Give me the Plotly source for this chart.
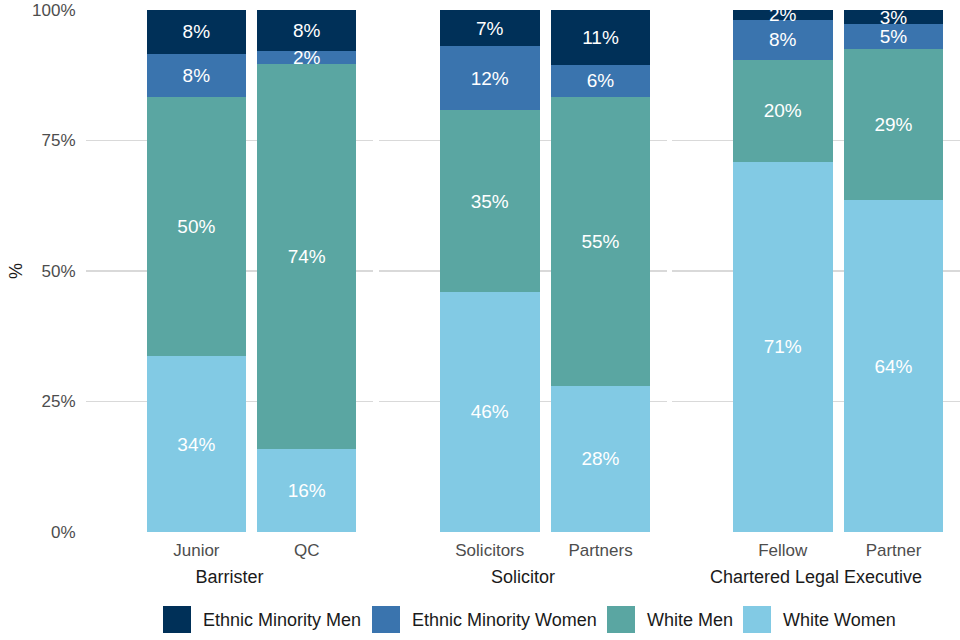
import plotly.graph_objects as go

facets = ["Barrister", "Solicitor", "Chartered Legal Executive"]
categories = [["Junior", "QC"], ["Solicitors", "Partners"], ["Fellow", "Partner"]]
series = ["Ethnic Minority Men", "Ethnic Minority Women", "White Men", "White Women"]
colors = {"Ethnic Minority Men": "#003058", "Ethnic Minority Women": "#3A74AE",
          "White Men": "#5AA6A2", "White Women": "#82CAE4"}
# values per facet: [cat1, cat2]
white_women = [[33.7, 15.9], [46.0, 28.0], [70.9, 63.6]]
white_men = [[49.6, 73.8], [34.8, 55.3], [19.6, 28.9]]
em_women = [[8.3, 2.4], [12.3, 6.2], [7.6, 4.8]]
em_men = [[8.4, 7.9], [6.9, 10.5], [1.9, 2.7]]
yticks = [0, 25, 50, 75, 100]
ytick_labels = ["0%", "25%", "50%", "75%", "100%"]

data = {"White Women": white_women, "White Men": white_men,
        "Ethnic Minority Women": em_women, "Ethnic Minority Men": em_men}
stack_order = ["White Women", "White Men", "Ethnic Minority Women", "Ethnic Minority Men"]

FONT = "Liberation Sans, Arial, sans-serif"
W, H = 960, 640
ML, MR, MT, MB = 86, 0, 10, 108
PW = W - ML - MR
PH = H - MT - MB
domains = [[0, 287 / PW], [293 / PW, 581 / PW], [586 / PW, 1.0]]

fig = go.Figure()
for i in range(3):
    xa = "x" if i == 0 else f"x{i+1}"
    ya = "y" if i == 0 else f"y{i+1}"
    for s in stack_order:
        fig.add_trace(go.Bar(
            x=categories[i], y=data[s][i], name=s, marker_color=colors[s],
            marker_line_width=0, width=0.9, xaxis=xa, yaxis=ya, showlegend=False,
            texttemplate="%{y:.0f}%", textposition="inside", insidetextanchor="middle",
            textangle=0, constraintext="none",
            textfont=dict(color="white", size=19, family=FONT),
            hoverinfo="skip"))

layout = dict(
    width=W, height=H, barmode="stack", plot_bgcolor="white", paper_bgcolor="white",
    margin=dict(l=ML, r=MR, t=MT, b=MB), font=dict(family=FONT),
)
for i in range(3):
    xk = "xaxis" if i == 0 else f"xaxis{i+1}"
    yk = "yaxis" if i == 0 else f"yaxis{i+1}"
    layout[xk] = dict(
        domain=domains[i], anchor="y" if i == 0 else f"y{i+1}",
        type="category", categoryorder="array", categoryarray=categories[i],
        range=[-1.0, 1.6], showgrid=False, zeroline=False, showline=False,
        ticks="outside", ticklen=3, tickcolor="rgba(0,0,0,0)",
        tickfont=dict(size=17, color="#4D4D4D", family=FONT),
        title=dict(text=facets[i], font=dict(size=18, color="#1A1A1A", family=FONT), standoff=10),
        fixedrange=True)
    layout[yk] = dict(
        domain=[0, 1], anchor="x" if i == 0 else f"x{i+1}",
        range=[0, 100], tickvals=yticks, ticktext=ytick_labels,
        showticklabels=(i == 0), showgrid=True, gridcolor="#D9D9D9", gridwidth=1.2,
        zeroline=False, showline=False,
        ticks="outside" if i == 0 else "", ticklen=6, tickcolor="rgba(0,0,0,0)",
        tickfont=dict(size=17, color="#4D4D4D", family=FONT),
        title=dict(text="%" if i == 0 else "", font=dict(size=18, color="#1A1A1A", family=FONT), standoff=4),
        fixedrange=True)
    if i > 0:
        layout[yk]["matches"] = "y"

# manual legend (large square keys); positions in page pixels
shapes = []
annotations = []
legend_x = [163, 372, 607, 743]
key_top, key_bottom, key_mid = 606, 633, 620

def px_x(p):
    return (p - ML) / PW

def px_y(p):
    return (H - MB - p) / PH

for s, lx in zip(series, legend_x):
    shapes.append(dict(type="rect", xref="paper", yref="paper",
                       x0=px_x(lx), x1=px_x(lx + 28),
                       y0=px_y(key_bottom), y1=px_y(key_top),
                       fillcolor=colors[s], line=dict(width=0)))
    annotations.append(dict(text=s, xref="paper", yref="paper",
                            x=px_x(lx + 38), y=px_y(key_mid),
                            xanchor="left", yanchor="middle", showarrow=False,
                            font=dict(size=18, color="#1A1A1A", family=FONT)))
layout["shapes"] = shapes
layout["annotations"] = annotations

fig.update_layout(**layout)
fig.write_html("out.html", config={"displayModeBar": False, "staticPlot": True},
               post_script="document.body.style.margin='0px';")
